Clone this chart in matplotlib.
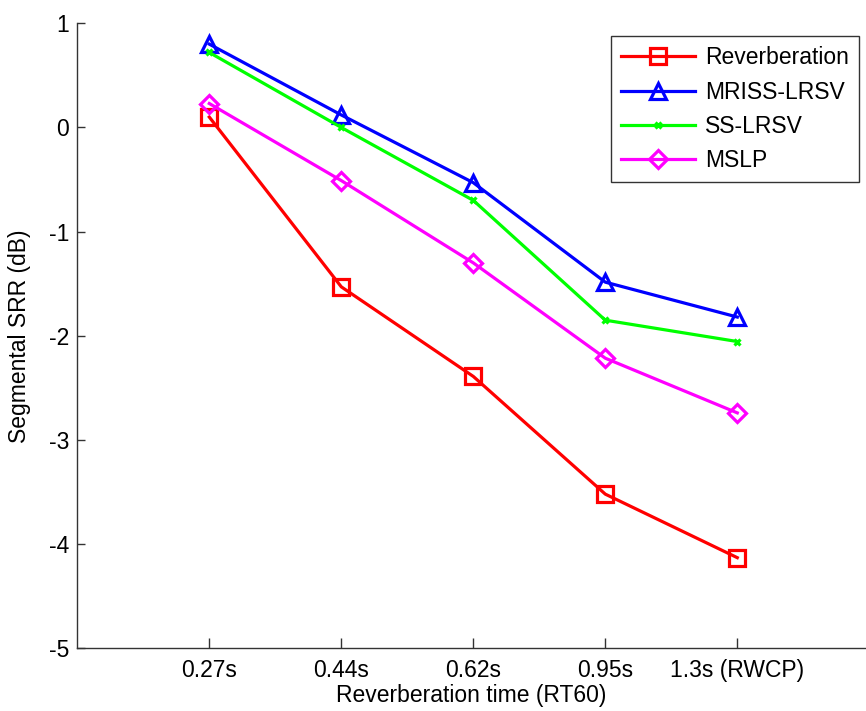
import matplotlib
matplotlib.use("Agg")
import matplotlib.pyplot as plt

plt.rcParams['font.family'] = ['Liberation Sans', 'DejaVu Sans']

rt_labels = ["0.27s", "0.44s", "0.62s", "0.95s", "1.3s (RWCP)"]
positions = [1, 2, 3, 4, 5]

reverberation = [0.10, -1.53, -2.39, -3.52, -4.13]
mriss_lrsv = [0.80, 0.12, -0.53, -1.485, -1.82]
ss_lrsv = [0.72, 0.00, -0.70, -1.85, -2.055]
mslp = [0.23, -0.51, -1.30, -2.215, -2.74]

W, H = 866, 711
fig = plt.figure(figsize=(W / 100, H / 100), dpi=100)
left_px, right_px, top_px, bot_px = 77.3, 866, 23.3, 648.3
ax = fig.add_axes([left_px / W, (H - bot_px) / H,
                   (right_px - left_px) / W, (bot_px - top_px) / H])

fs = 16.5
lw = 2.3
ax.plot(positions, reverberation, color='#ff0000', lw=lw, marker='s',
        markersize=11, markerfacecolor='none', markeredgewidth=2.3,
        label='Reverberation')
ax.plot(positions, mriss_lrsv, color='#0000ff', lw=lw, marker='^',
        markersize=12, markerfacecolor='none', markeredgewidth=2.3,
        label='MRISS-LRSV')
ax.plot(positions, ss_lrsv, color='#00ff00', lw=lw, marker='x',
        markersize=5, markeredgewidth=2.3, label='SS-LRSV')
ax.plot(positions, mslp, color='#ff00ff', lw=lw, marker='D',
        markersize=9, markerfacecolor='none', markeredgewidth=2.3,
        label='MSLP')

ax.set_xlim(0, (right_px - left_px) / 132.0)
ax.set_ylim(-5, 1)
ax.set_xticks(positions)
ax.set_xticklabels(rt_labels)
ax.set_yticks([-5, -4, -3, -2, -1, 0, 1])
ax.set_yticklabels(['-5', '-4', '-3', '-2', '-1', '0', '1'])

for s in ['top', 'right']:
    ax.spines[s].set_visible(False)
for s in ['left', 'bottom']:
    ax.spines[s].set_linewidth(1.0)
    ax.spines[s].set_color('#333333')

ax.tick_params(axis='both', direction='in', labelsize=fs, width=1,
               colors='#333333', labelcolor='black')
ax.tick_params(axis='y', length=6, pad=6)
ax.tick_params(axis='x', length=7, pad=8)

ax.set_xlabel('Reverberation time (RT60)', fontsize=fs, labelpad=1)
ax.set_ylabel('Segmental SRR (dB)', fontsize=fs, labelpad=13)

leg = ax.legend(loc='upper right', bbox_to_anchor=((859.3 - left_px) / (right_px - left_px),
                                                    (bot_px - 36) / (bot_px - top_px)),
                fontsize=fs, frameon=True, fancybox=False, edgecolor='black',
                handlelength=3.2, labelspacing=0.49, borderpad=0.45,
                handletextpad=0.45, borderaxespad=0)
leg.get_frame().set_linewidth(1.0)

fig.savefig('out.png', dpi=100)
